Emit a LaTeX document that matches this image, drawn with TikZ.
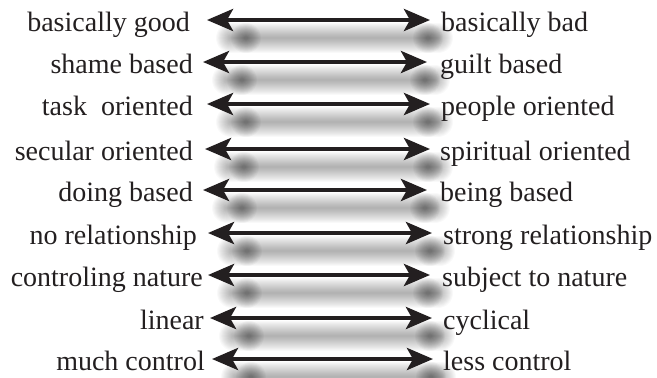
\documentclass[tikz,border=0pt]{standalone}
\usepackage{fontspec}
\setmainfont{Liberation Serif}
\usetikzlibrary{arrows.meta}
\definecolor{ink}{RGB}{35,31,32}
\begin{document}
\begin{tikzpicture}[x=1pt,y=-1pt,
  termtext/.style={inner sep=0pt, font=\fontsize{28}{30}\selectfont, text=ink},
  leftterm/.style={termtext, anchor=base east},
  rightterm/.style={termtext, anchor=base west},
  pairarrow/.style={draw=ink, line width=4.4pt, {Stealth[length=26pt,width=22pt,inset=6pt]}-{Stealth[length=26pt,width=22pt,inset=6pt]}},
  shadowband/.style={black, opacity=0.022, line cap=round},
  shadowspot/.style={black, opacity=0.032}]
\useasboundingbox (0,0) rectangle (657,378);
% row: index / shaft y / left tip / right tip / left text end / right text start / texts
\foreach \i/\y/\lx/\rx/\le/\rs/\ltext/\rtext in {
  1/20/207/430/190/441/basically good/basically bad,
  2/62/203/427/193/440/shame based/guilt based,
  3/104/207/430/193/441/task~~oriented/people oriented,
  4/149/205/430/193/440/secular oriented/spiritual oriented,
  5/190/203/427/193/440/doing based/being based,
  6/233/208/432/197/443/no relationship/strong relationship,
  7/275/208/430/203/442/controling nature/subject to nature,
  8/318/210/432/204/443/linear/cyclical,
  9/359/212/433/205/443/much control/less control}
{
  % soft drop shadow under the arrow
  \foreach \w in {2,4,...,30}
    \draw[shadowband, line width=\w pt] (\lx+24,\y+18) -- (\rx+8,\y+18);
  \foreach \r in {2,...,15} {
    \fill[shadowspot] (\lx+39,\y+18) circle[radius=\r pt];
    \fill[shadowspot] (\rx-2,\y+18) circle[radius=\r pt];
  }
  % arrow ends and labels
  \coordinate (a\i) at (\lx,\y);
  \coordinate (b\i) at (\rx,\y);
  \node[leftterm] (L\i) at (\le,\y+11) {\ltext};
  \node[rightterm] (R\i) at (\rs,\y+11) {\rtext};
  \draw[pairarrow] (a\i) -- (b\i);
}
\end{tikzpicture}
\end{document}
